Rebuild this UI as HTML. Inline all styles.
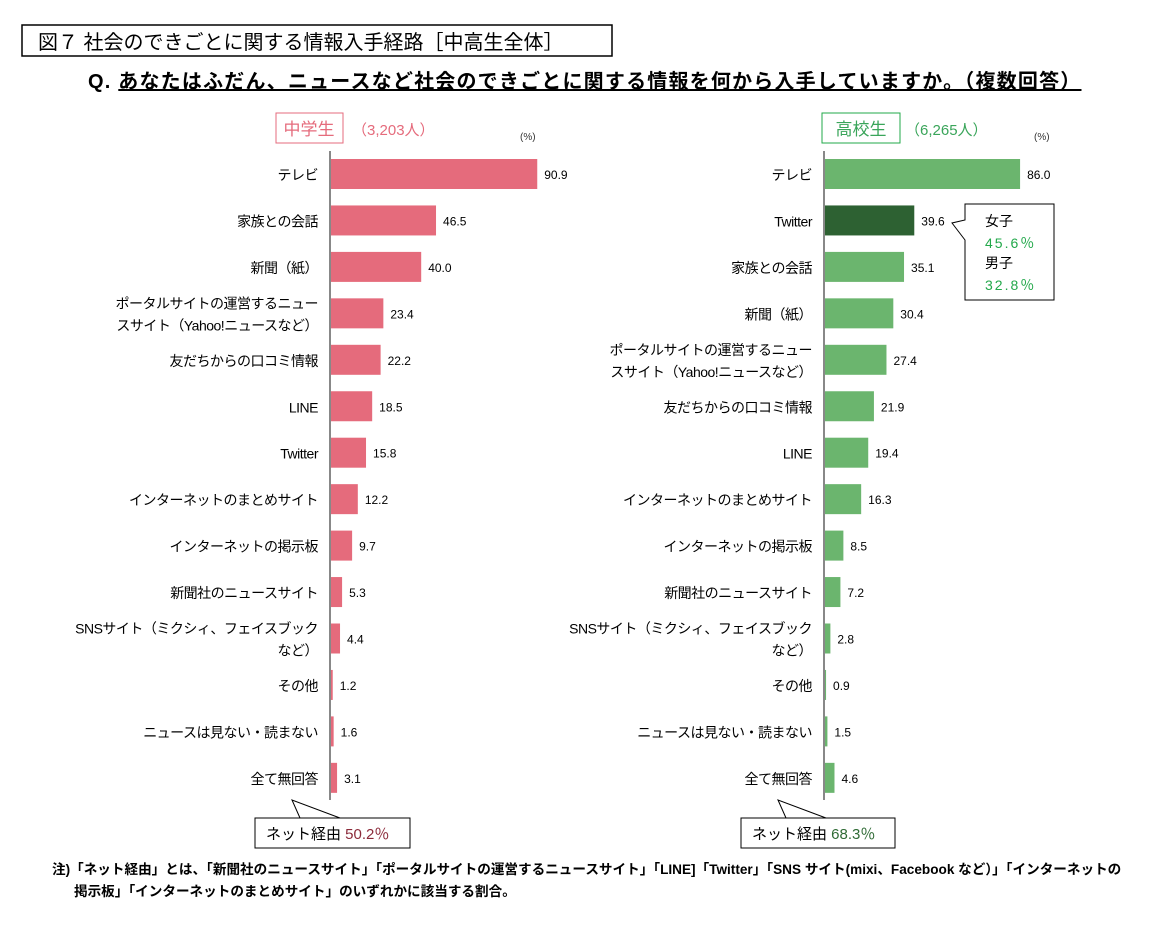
<!DOCTYPE html>
<html><head><meta charset="utf-8"><style>
body{margin:0;background:#fff;width:1150px;height:920px;overflow:hidden;font-family:"Liberation Sans","Noto Sans CJK JP",sans-serif;}
svg text{font-family:"Liberation Sans","Noto Sans CJK JP",sans-serif;}
</style></head><body>
<svg id="c" width="1150" height="920">
<rect x="22" y="25" width="590" height="31" fill="none" stroke="#000" stroke-width="1.5"/>
<text x="38" y="49" font-size="20">図７  社会のできごとに関する情報入手経路［中高生全体］</text>
<text x="88" y="88" font-size="20" font-weight="bold" letter-spacing="1.2">Q. <tspan text-decoration="underline">あなたはふだん、ニュースなど社会のできごとに関する情報を何から入手していますか。（複数回答）</tspan></text>
<rect x="276" y="113" width="67" height="30" fill="none" stroke="#e56b7c"/>
<text x="309" y="135" font-size="17" fill="#e56b7c" text-anchor="middle">中学生</text>
<text x="352" y="135" font-size="15" fill="#e56b7c">（3,203人）</text>
<text x="520" y="140" font-size="10" fill="#333">(%)</text>
<rect x="822" y="113" width="78" height="30" fill="none" stroke="#22a84a"/>
<text x="861" y="135" font-size="17" fill="#3aa55a" text-anchor="middle">高校生</text>
<text x="905" y="135" font-size="15" fill="#3aa55a">（6,265人）</text>
<text x="1034" y="140" font-size="10" fill="#333">(%)</text>
<g id="left"></g><g id="right"></g>
<path d="M965 204 H1054 V300 H965 V240 L952 223 L965 220 Z" fill="#fff" stroke="#000"/>
<text x="985" y="226" font-size="14">女子</text>
<text x="985" y="248" font-size="14" fill="#22a84a" letter-spacing="2">45.6％</text>
<text x="985" y="268" font-size="14">男子</text>
<text x="985" y="290" font-size="14" fill="#22a84a" letter-spacing="2">32.8％</text>
<path d="M255 818 H410 V848 H255 Z M300 818 L292 800 L340 818" fill="#fff" stroke="#000"/>
<text x="266" y="839" font-size="15">ネット経由 <tspan fill="#8b2a3a">50.2％</tspan></text>
<path d="M741 818 H895 V848 H741 Z M786 818 L778 800 L826 818" fill="#fff" stroke="#000"/>
<text x="752" y="839" font-size="15">ネット経由 <tspan fill="#2f6b35">68.3％</tspan></text>
<text x="52" y="874" font-size="13.6" font-weight="bold">注)「ネット経由」とは、「新聞社のニュースサイト」「ポータルサイトの運営するニュースサイト」「LINE]「Twitter」「SNS サイト(mixi、Facebook など）」「インターネットの</text>
<text x="74" y="896" font-size="13.6" font-weight="bold">掲示板」「インターネットのまとめサイト」のいずれかに該当する割合。</text>
</svg>
<script>
const jhCats=["テレビ","家族との会話","新聞（紙）","ポータルサイトの運営するニュー|スサイト（Yahoo!ニュースなど）","友だちからの口コミ情報","LINE","Twitter","インターネットのまとめサイト","インターネットの掲示板","新聞社のニュースサイト","SNSサイト（ミクシィ、フェイスブック|など）","その他","ニュースは見ない・読まない","全て無回答"];
const jhVals=[90.9,46.5,40.0,23.4,22.2,18.5,15.8,12.2,9.7,5.3,4.4,1.2,1.6,3.1];
const hsCats=["テレビ","Twitter","家族との会話","新聞（紙）","ポータルサイトの運営するニュー|スサイト（Yahoo!ニュースなど）","友だちからの口コミ情報","LINE","インターネットのまとめサイト","インターネットの掲示板","新聞社のニュースサイト","SNSサイト（ミクシィ、フェイスブック|など）","その他","ニュースは見ない・読まない","全て無回答"];
const hsVals=[86.0,39.6,35.1,30.4,27.4,21.9,19.4,16.3,8.5,7.2,2.8,0.9,1.5,4.6];
const NS="http://www.w3.org/2000/svg";
const xScale=v=>v*2.28;
const yRow=i=>174+i*46.45;
function mk(t,a,p){const e=document.createElementNS(NS,t);for(const k in a)e.setAttribute(k,a[k]);p.appendChild(e);return e;}
function draw(gid,x0,cats,vals,color,hi){
 const g=document.getElementById(gid);
 cats.forEach((c,i)=>{
  const y=yRow(i);
  const r=mk('rect',{x:x0,y:y-15,width:xScale(vals[i]),height:30,fill:(i===hi?'#2d6132':color)},g);
  
  
  const v=mk('text',{x:x0+xScale(vals[i])+7,y:y+5,'font-size':12},g);
  v.textContent=vals[i].toFixed(1);
  
  
  const parts=c.split('|');
  parts.forEach((p,j)=>{
   const t=mk('text',{x:x0-12,y:y+6+(j-(parts.length-1)/2)*22,'font-size':14,'letter-spacing':-0.5,'text-anchor':'end'},g);
   t.textContent=p;
   
   
  });
 });
 const ax=mk('line',{x1:x0,x2:x0,y1:151,y2:800,stroke:'#888','stroke-width':2},g);
 
 
}
draw('left',330,jhCats,jhVals,'#e56b7c',-1);
draw('right',824,hsCats,hsVals,'#6bb56e',1);
</script>
</body></html>
